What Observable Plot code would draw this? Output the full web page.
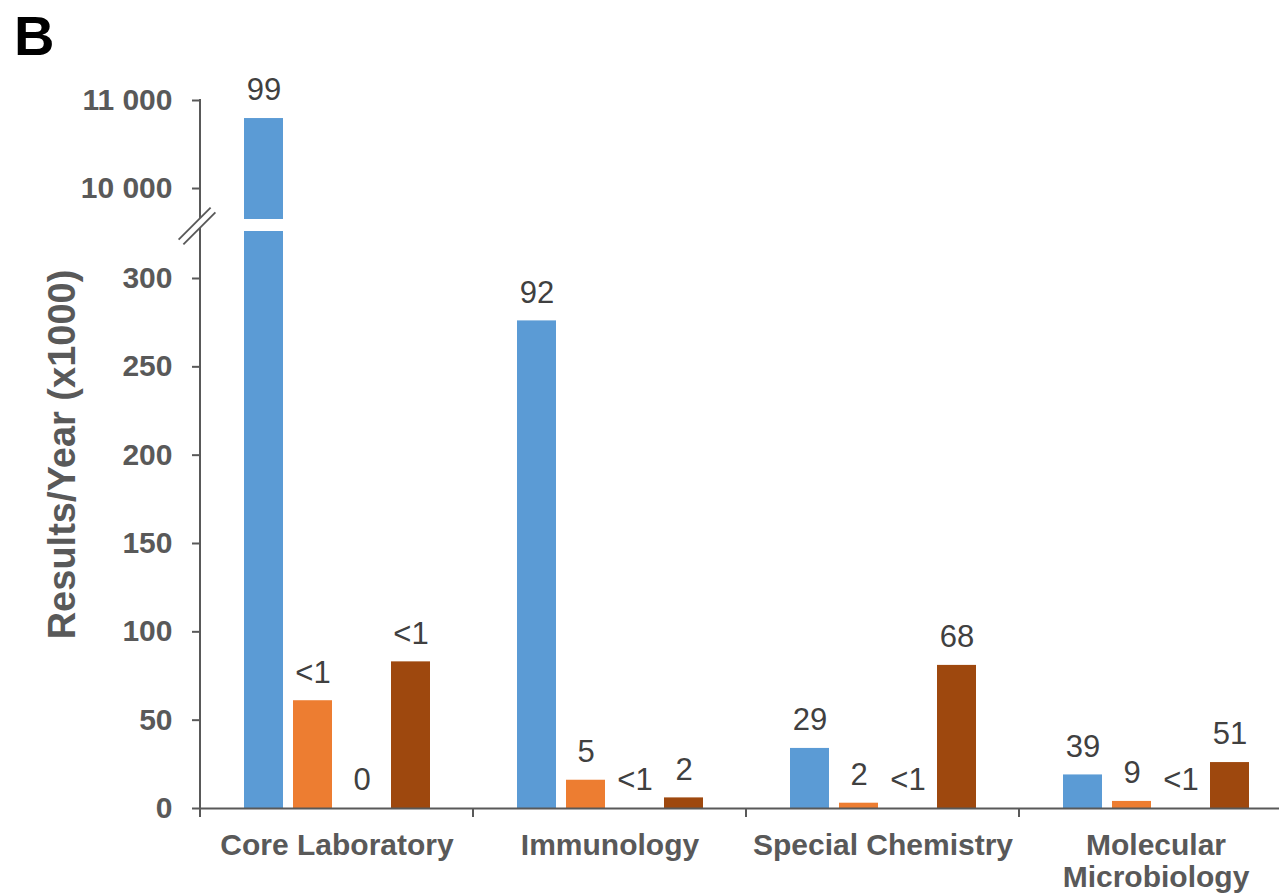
<!DOCTYPE html>
<html>
<head>
<meta charset="utf-8">
<script src="https://cdn.jsdelivr.net/npm/d3@7"></script>
<script src="https://cdn.jsdelivr.net/npm/@observablehq/plot@0.6"></script>
<style>
  html, body { margin: 0; padding: 0; background: #fff; overflow: hidden; }
  #wrap { position: relative; width: 1279px; height: 896px; overflow: hidden; }
  #chart svg { max-width: none !important; }
  #panel { position: absolute; left: 14px; top: 8px; font: bold 56px/56px "Liberation Sans", Arial, sans-serif; color: #000; }
</style>
</head>
<body>
<div id="wrap"><div id="chart"></div><div id="panel">B</div></div>
<script>
// ---- data ----
const categories = ["Core Laboratory", "Immunology", "Special Chemistry", "Molecular Microbiology"];
const categoryLabels = ["Core Laboratory", "Immunology", "Special Chemistry", "Molecular\nMicrobiology"];
const seriesNames = ["Series 1", "Series 2", "Series 3", "Series 4"];
const seriesColors = ["#5B9BD5", "#ED7D31", "#A5A5A5", "#9E480E"];
// Results/Year (x1000), one array per series, in category order
const series1Values = [10795, 276, 34, 19];
const series2Values = [61, 16, 3, 4];
const series3Values = [0, 0, 0, 0];
const series4Values = [83, 6, 81, 26];
// labels printed above bars
const series1Labels = ["99", "92", "29", "39"];
const series2Labels = ["<1", "5", "2", "9"];
const series3Labels = ["0", "<1", "<1", "<1"];
const series4Labels = ["<1", "2", "68", "51"];
const yTicks = [0, 50, 100, 150, 200, 250, 300, 10000, 11000];
const yTitle = "Results/Year (x1000)";
// broken axis: lower segment ends, upper segment starts
const breakLow = 326.6;
const breakHigh = 9648;
const yMax = 11000;

const seriesValues = [series1Values, series2Values, series3Values, series4Values];
const seriesLabels = [series1Labels, series2Labels, series3Labels, series4Labels];
const data = categories.flatMap((c, i) => seriesNames.map((s, j) => ({
  category: c, series: s, value: seriesValues[j][i], label: seriesLabels[j][i]
})));
const broken = data.filter(d => d.value > breakHigh);

const fmt = d => d3.format(",")(d).replace(/,/g, " ");
const gray = "#595959";
const W = 1292, H = 896, mL = 200, mT = 100, mB = 88;
const y0px = H - mB;          // 808
const breakLowPx = 231, breakHighPx = 219;

const chart = Plot.plot({
  width: W, height: H,
  marginLeft: mL, marginRight: 0, marginTop: mT, marginBottom: mB,
  style: { fontFamily: "'Liberation Sans', Arial, sans-serif", background: "white", overflow: "visible", maxWidth: "none" },
  fx: { domain: categories, padding: 0 },
  x: { domain: seriesNames, paddingInner: 0.21, paddingOuter: 0.87, axis: null },
  y: { type: "linear", domain: [0, breakLow, breakHigh, yMax], range: [y0px, breakLowPx, breakHighPx, mT] },
  color: { domain: seriesNames, range: seriesColors },
  marks: [
    Plot.barY(data, { fx: "category", x: "series", y: "value", fill: "series" }),
    Plot.barY(broken, { fx: "category", x: "series", y1: breakLow, y2: breakHigh, fill: "white", insetLeft: -1, insetRight: -1 }),
    Plot.ruleY([0], { stroke: gray, strokeWidth: 2 }),
    Plot.text(data, {
      fx: "category", x: "series", y: "value", text: "label",
      dy: -28, fontSize: 31, fill: "#404040", lineAnchor: "middle"
    }),
    Plot.axisY({
      ticks: yTicks, tickFormat: fmt, tickSize: 8, tickPadding: 20,
      fontSize: 30, fontWeight: "bold", color: gray, strokeWidth: 2, label: null
    }),
    Plot.axisFx({
      anchor: "bottom", tickSize: 0, tickPadding: 24,
      tickFormat: c => categoryLabels[categories.indexOf(c)],
      fontSize: 30, fontWeight: "bold", color: gray, lineHeight: 1.07, label: null
    }),
    Plot.text([{ category: categories[0], t: yTitle }], {
      fx: "category", text: "t", frameAnchor: "left", textAnchor: "middle", lineAnchor: "middle",
      dx: -138, rotate: -90,
      fontSize: 38, fontWeight: "bold", fill: gray
    })
  ]
});

document.getElementById("chart").appendChild(chart);

// axis decorations placed with Plot's own scales
const ys = chart.scale("y");
const fxs = chart.scale("fx");
const svg = d3.select(chart);
const g = svg.append("g");
const ax = fxs.apply(categories[0]);
const yb = ys.apply(0);
// y axis line
g.append("line").attr("x1", ax).attr("x2", ax)
  .attr("y1", yb + 1).attr("y2", ys.apply(yMax) - 1)
  .attr("stroke", gray).attr("stroke-width", 2);
// category boundary ticks
const bounds = categories.map(c => fxs.apply(c)).concat([fxs.apply(categories[categories.length - 1]) + fxs.bandwidth]);
bounds.forEach(x => {
  g.append("line").attr("x1", x).attr("x2", x).attr("y1", yb).attr("y2", yb + 9)
    .attr("stroke", gray).attr("stroke-width", 2);
});
// break symbol
const cy = (ys.apply(breakLow) + ys.apply(breakHigh)) / 2 + 1;
const cx = ax - 3;
const h = 16, o = 2.4;
const pA1 = [cx - h - o, cy + h - o], pA2 = [cx + h - o, cy - h - o];
const pB1 = [cx - h + o, cy + h + o], pB2 = [cx + h + o, cy - h + o];
g.append("polygon").attr("points", [pA1, pA2, pB2, pB1].map(p => p.join(",")).join(" "))
  .attr("fill", "white");
[[pA1, pA2], [pB1, pB2]].forEach(([a, b]) => {
  g.append("line").attr("x1", a[0]).attr("y1", a[1]).attr("x2", b[0]).attr("y2", b[1])
    .attr("stroke", gray).attr("stroke-width", 1.8);
});
</script>
</body>
</html>
